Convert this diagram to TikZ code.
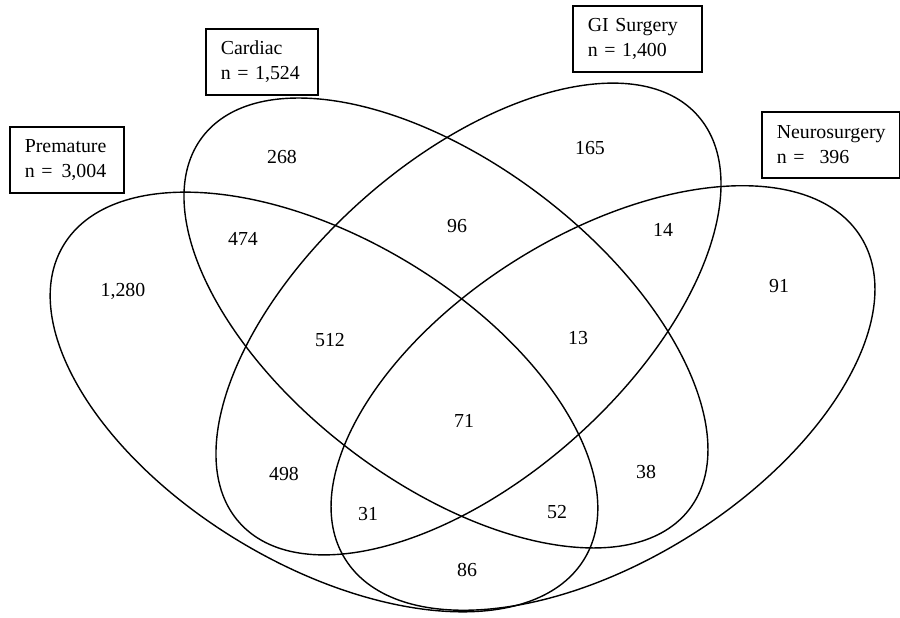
\documentclass[tikz,border=0pt]{standalone}
\usepackage{fontspec}
\setmainfont{Liberation Serif}

\begin{document}
\begin{tikzpicture}[
        setline/.style={line width=0.8pt},
        setbox/.style={rectangle, draw, line width=0.9pt, anchor=north west, align=left, inner xsep=0.3cm, inner ysep=0pt, minimum height=1.32cm, font=\fontsize{11.3}{14}\selectfont},
        count/.style={font=\fontsize{11.3}{14}\selectfont}
    ]
        \useasboundingbox (0,0) rectangle (18,12.36);

        % Sets
        \coordinate (premature) at (6.48,4.32);
        \coordinate (neuro) at (12.06,4.40);
        \coordinate (cardiac) at (8.92,5.90);
        \coordinate (gi) at (9.37,5.98);
        \draw[setline, rotate around={-31:(premature)}] (premature) ellipse (6.08 and 3.26);
        \draw[setline, rotate around={32:(neuro)}] (neuro) ellipse (6.08 and 3.26);
        \draw[setline, rotate around={-37.4:(cardiac)}] (cardiac) ellipse (6.13 and 3.18);
        \draw[setline, rotate around={41.6:(gi)}] (gi) ellipse (6.13 and 3.19);

        % Labels
        \node[setbox, text width=1.68cm] (prematureBox) at (0.18,9.84) {Premature\\n =\hspace{0.18cm}3,004};
        \node[setbox, text width=1.64cm] (cardiacBox) at (4.10,11.80) {Cardiac\\n = 1,524};
        \node[setbox, text width=1.98cm] (giBox) at (11.44,12.26) {GI Surgery\\n = 1,400};
        \node[setbox, text width=2.16cm] (neuroBox) at (15.22,10.14) {Neurosurgery\\n =\hspace{0.3cm}396};

        % Counts
        \node[count] (p) at (2.46,6.54) {1,280};
        \node[count] (c) at (5.64,9.22) {268};
        \node[count] (pc) at (4.86,7.58) {474};
        \node[count] (cg) at (9.14,7.84) {96};
        \node[count] (g) at (11.80,9.40) {165};
        \node[count] (gn) at (13.26,7.76) {14};
        \node[count] (n) at (15.58,6.64) {91};
        \node[count] (pcg) at (6.60,5.56) {512};
        \node[count] (cgn) at (11.56,5.60) {13};
        \node[count] (pcgn) at (9.28,3.94) {71};
        \node[count] (pg) at (5.68,2.88) {498};
        \node[count] (pgn) at (7.36,2.08) {31};
        \node[count] (pcn) at (11.14,2.12) {52};
        \node[count] (cn) at (12.92,2.92) {38};
        \node[count] (pn) at (9.34,0.96) {86};
    \end{tikzpicture}
\end{document}
